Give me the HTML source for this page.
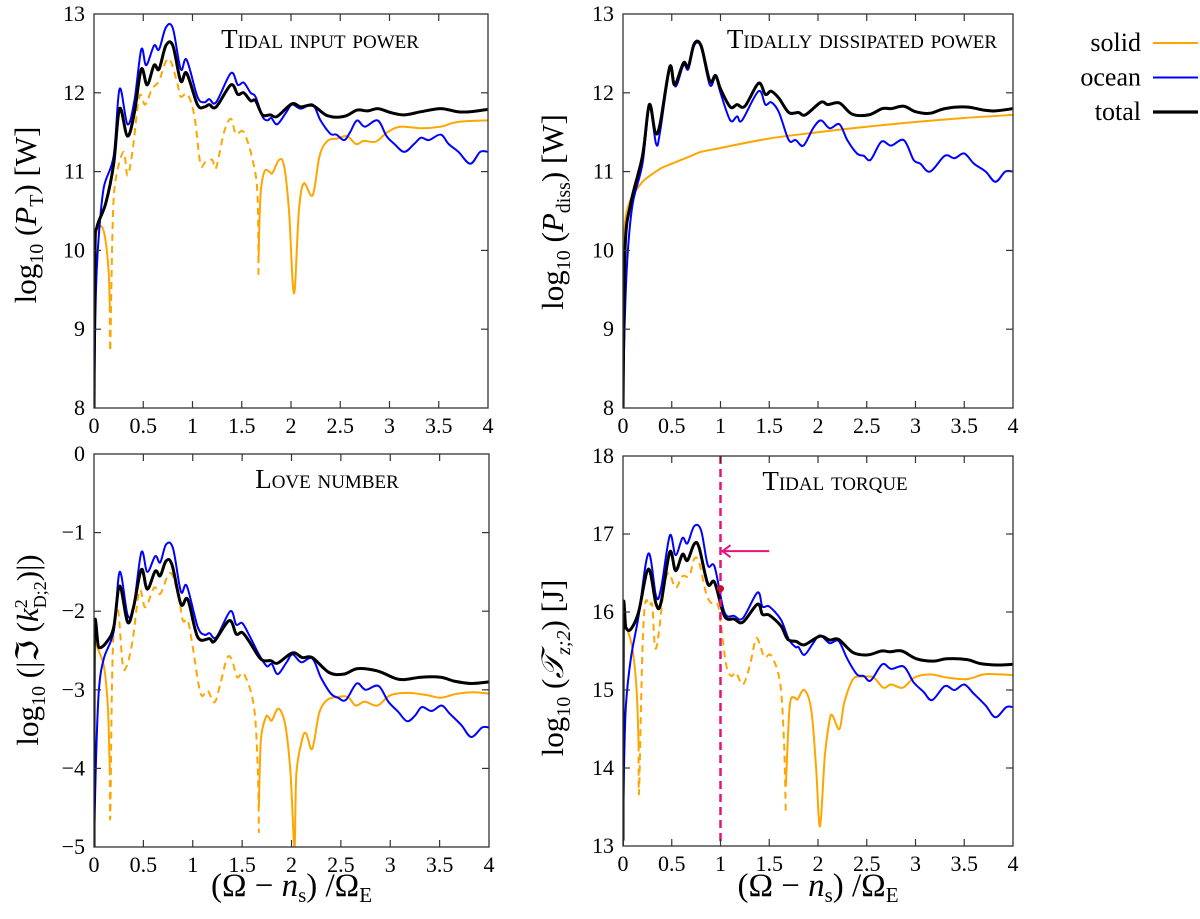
<!DOCTYPE html>
<html><head><meta charset="utf-8"><style>
html,body{margin:0;padding:0;background:#fff;}
svg{display:block;font-family:"Liberation Serif","DejaVu Serif",serif;}
</style></head><body>
<svg id="fig" width="1200" height="919" viewBox="0 0 1200 919" xmlns="http://www.w3.org/2000/svg"></svg>
<script>
// ---------- data (x in (Ω-n_s)/Ω_E, y in log10 units) ----------
const xTicks = [0, 0.5, 1, 1.5, 2, 2.5, 3, 3.5, 4];
const xTickLabels = ["0", "0.5", "1", "1.5", "2", "2.5", "3", "3.5", "4"];
const yTicksPower = [8, 9, 10, 11, 12, 13];
const yTicksLove = [-5, -4, -3, -2, -1, 0];
const yTicksTorque = [13, 14, 15, 16, 17, 18];

// Panel 1: tidal input power
const p1Total = [[0,8],[0.01,10],[0.03,10.3],[0.12,10.6],[0.2,11.1],[0.26,11.8],[0.34,11.45],[0.41,11.75],[0.48,12.3],[0.54,12.1],[0.61,12.35],[0.66,12.3],[0.73,12.6],[0.8,12.6],[0.88,12.15],[0.94,12.25],[1.05,11.85],[1.12,11.82],[1.17,11.85],[1.24,11.82],[1.39,12.1],[1.46,11.98],[1.52,12.0],[1.59,11.9],[1.64,11.9],[1.71,11.72],[1.79,11.72],[1.86,11.7],[2.01,11.86],[2.1,11.82],[2.22,11.84],[2.37,11.71],[2.54,11.7],[2.67,11.78],[2.78,11.77],[2.88,11.8],[3.01,11.75],[3.15,11.72],[3.32,11.76],[3.52,11.8],[3.69,11.76],[3.82,11.76],[4,11.79]];
const p1Ocean = [[0,8],[0.02,9.5],[0.05,10.2],[0.1,10.8],[0.2,11.2],[0.26,12.05],[0.34,11.6],[0.41,11.9],[0.48,12.55],[0.53,12.35],[0.61,12.6],[0.66,12.55],[0.73,12.83],[0.8,12.82],[0.88,12.3],[0.94,12.42],[1.05,11.95],[1.12,11.88],[1.17,11.92],[1.24,11.88],[1.39,12.25],[1.46,12.1],[1.52,12.13],[1.59,12.0],[1.64,11.95],[1.71,11.7],[1.76,11.65],[1.8,11.68],[1.86,11.6],[1.95,11.75],[2.01,11.85],[2.1,11.8],[2.22,11.85],[2.3,11.65],[2.4,11.48],[2.46,11.47],[2.54,11.4],[2.6,11.5],[2.67,11.65],[2.75,11.57],[2.88,11.65],[2.97,11.45],[3.05,11.35],[3.15,11.25],[3.25,11.35],[3.32,11.43],[3.4,11.4],[3.52,11.47],[3.6,11.35],[3.7,11.25],[3.82,11.1],[3.92,11.25],[4,11.25]];
const p1SolidA = [[0,10.0],[0.03,10.25],[0.08,10.3],[0.12,10.1],[0.15,9.7],[0.16,9.3]];
const p1SolidDash = [[0.16,9.3],[0.165,8.75],[0.19,10.35],[0.22,10.9],[0.3,11.25],[0.34,10.95],[0.39,11.25],[0.46,11.95],[0.52,11.85],[0.59,12.05],[0.66,12.15],[0.73,12.4],[0.78,12.4],[0.85,12.1],[0.88,11.95],[0.95,11.98],[1.02,11.7],[1.08,11.1],[1.13,11.12],[1.2,11.15],[1.24,11.05],[1.32,11.5],[1.39,11.67],[1.44,11.48],[1.52,11.5],[1.61,11.15],[1.66,10.7],[1.67,9.65]];
const p1SolidB = [[1.67,9.85],[1.69,10.7],[1.73,11.0],[1.78,11.0],[1.81,10.98],[1.88,11.15],[1.93,11.07],[1.98,10.5],[2.03,9.45],[2.08,10.5],[2.13,10.85],[2.22,10.7],[2.29,11.2],[2.37,11.39],[2.47,11.42],[2.57,11.45],[2.66,11.35],[2.74,11.39],[2.86,11.38],[2.98,11.5],[3.11,11.57],[3.32,11.55],[3.52,11.57],[3.69,11.63],[4,11.65]];

// Panel 2: tidally dissipated power
const p2Total = [[0,8],[0.02,10.0],[0.08,10.6],[0.2,11.2],[0.27,11.85],[0.33,11.5],[0.38,11.6],[0.48,12.33],[0.53,12.1],[0.62,12.38],[0.67,12.33],[0.73,12.62],[0.8,12.6],[0.89,12.15],[0.95,12.22],[1.0,12.05],[1.1,11.82],[1.17,11.85],[1.25,11.83],[1.39,12.12],[1.46,11.98],[1.52,12.02],[1.6,11.93],[1.7,11.75],[1.8,11.75],[1.87,11.72],[2.03,11.88],[2.1,11.85],[2.22,11.87],[2.35,11.73],[2.52,11.72],[2.66,11.8],[2.75,11.8],[2.88,11.83],[3.0,11.76],[3.15,11.74],[3.3,11.8],[3.52,11.82],[3.7,11.78],[3.82,11.77],[4,11.8]];
const p2Ocean = [[0,8],[0.02,9.2],[0.05,10.0],[0.1,10.6],[0.2,11.1],[0.27,11.82],[0.34,11.35],[0.38,11.5],[0.48,12.3],[0.54,12.08],[0.62,12.35],[0.67,12.3],[0.73,12.6],[0.8,12.58],[0.89,12.1],[0.95,12.2],[1.0,12.0],[1.1,11.65],[1.17,11.7],[1.22,11.65],[1.39,12.02],[1.46,11.85],[1.52,11.88],[1.6,11.75],[1.7,11.4],[1.77,11.4],[1.85,11.33],[1.95,11.55],[2.03,11.65],[2.12,11.55],[2.22,11.6],[2.3,11.4],[2.4,11.23],[2.47,11.2],[2.54,11.15],[2.65,11.38],[2.75,11.33],[2.88,11.4],[2.98,11.15],[3.05,11.1],[3.15,11.0],[3.3,11.2],[3.4,11.17],[3.5,11.23],[3.6,11.1],[3.72,11.0],[3.82,10.87],[3.92,11.0],[4,11.0]];
const p2Solid = [[0,10.0],[0.02,10.35],[0.05,10.55],[0.1,10.7],[0.2,10.87],[0.3,10.97],[0.4,11.05],[0.5,11.1],[0.7,11.2],[0.8,11.25],[1.0,11.3],[1.5,11.42],[2.0,11.5],[2.5,11.57],[3.0,11.63],[3.5,11.68],[4,11.72]];

// Panel 3: Love number
const p3Total = [[0,-5],[0.005,-2.25],[0.05,-2.46],[0.135,-2.38],[0.2,-2.2],[0.26,-1.68],[0.34,-2.14],[0.4,-1.95],[0.48,-1.47],[0.54,-1.72],[0.62,-1.49],[0.67,-1.55],[0.73,-1.36],[0.79,-1.41],[0.88,-1.91],[0.95,-1.85],[1.05,-2.33],[1.17,-2.35],[1.22,-2.38],[1.37,-2.12],[1.44,-2.29],[1.5,-2.27],[1.57,-2.38],[1.69,-2.61],[1.79,-2.63],[1.86,-2.66],[2.01,-2.53],[2.11,-2.59],[2.21,-2.59],[2.38,-2.78],[2.53,-2.8],[2.67,-2.73],[2.87,-2.76],[3.04,-2.85],[3.14,-2.87],[3.31,-2.84],[3.51,-2.84],[3.65,-2.89],[3.82,-2.92],[4,-2.9]];
const p3Ocean = [[0,-5],[0.02,-3.9],[0.05,-3.0],[0.1,-2.6],[0.2,-2.25],[0.26,-1.5],[0.34,-2.05],[0.4,-1.95],[0.48,-1.25],[0.54,-1.5],[0.62,-1.3],[0.67,-1.38],[0.73,-1.15],[0.8,-1.2],[0.88,-1.75],[0.94,-1.68],[1.05,-2.2],[1.12,-2.3],[1.17,-2.28],[1.24,-2.33],[1.38,-2.0],[1.44,-2.17],[1.5,-2.15],[1.57,-2.3],[1.67,-2.55],[1.75,-2.7],[1.8,-2.67],[1.86,-2.8],[1.95,-2.65],[2.01,-2.55],[2.1,-2.65],[2.21,-2.6],[2.3,-2.85],[2.4,-3.05],[2.47,-3.1],[2.55,-3.13],[2.66,-2.92],[2.75,-3.0],[2.88,-2.95],[2.98,-3.15],[3.08,-3.28],[3.17,-3.4],[3.25,-3.33],[3.32,-3.22],[3.42,-3.27],[3.52,-3.2],[3.6,-3.3],[3.72,-3.45],[3.82,-3.6],[3.93,-3.48],[4,-3.48]];
const p3SolidA = [[0,-2.3],[0.03,-2.45],[0.1,-2.7],[0.14,-3.2],[0.155,-3.8],[0.16,-4.0]];
const p3SolidDash = [[0.16,-4.0],[0.165,-4.6],[0.19,-2.5],[0.24,-1.97],[0.29,-2.67],[0.33,-2.7],[0.39,-2.38],[0.46,-1.74],[0.52,-1.95],[0.61,-1.7],[0.67,-1.78],[0.74,-1.57],[0.79,-1.53],[0.86,-1.83],[0.9,-2.12],[0.95,-2.12],[1.0,-2.46],[1.08,-3.05],[1.15,-3.01],[1.22,-3.16],[1.28,-2.92],[1.35,-2.59],[1.4,-2.63],[1.45,-2.84],[1.52,-2.8],[1.62,-3.22],[1.66,-4.06],[1.67,-4.82]];
const p3SolidB = [[1.67,-4.49],[1.69,-3.64],[1.74,-3.35],[1.77,-3.35],[1.8,-3.39],[1.87,-3.24],[1.94,-3.47],[1.99,-4.06],[2.03,-5],[2.05,-4.06],[2.11,-3.62],[2.15,-3.56],[2.21,-3.75],[2.28,-3.3],[2.36,-3.13],[2.47,-3.09],[2.57,-3.09],[2.65,-3.2],[2.74,-3.15],[2.87,-3.2],[3.0,-3.07],[3.18,-3.04],[3.38,-3.07],[3.51,-3.1],[3.68,-3.05],[3.85,-3.03],[4,-3.05]];

// Panel 4: tidal torque
const p4Total = [[0,13.08],[0.003,15.97],[0.03,15.8],[0.08,15.78],[0.16,16.0],[0.26,16.55],[0.34,16.1],[0.39,16.12],[0.48,16.77],[0.54,16.53],[0.61,16.74],[0.66,16.66],[0.73,16.87],[0.78,16.83],[0.87,16.36],[0.94,16.38],[1.04,15.95],[1.14,15.91],[1.23,15.87],[1.38,16.1],[1.43,15.97],[1.5,15.96],[1.62,15.82],[1.69,15.65],[1.78,15.62],[1.86,15.58],[2.02,15.69],[2.12,15.64],[2.21,15.65],[2.36,15.48],[2.51,15.45],[2.65,15.5],[2.74,15.49],[2.86,15.5],[3.01,15.4],[3.18,15.37],[3.32,15.4],[3.53,15.39],[3.66,15.34],[3.84,15.32],[4,15.33]];
const p4Ocean = [[0,13.0],[0.01,14.0],[0.03,14.8],[0.08,15.4],[0.16,15.95],[0.26,16.75],[0.34,16.2],[0.39,16.3],[0.48,16.98],[0.54,16.73],[0.61,16.95],[0.66,16.88],[0.73,17.1],[0.8,17.05],[0.87,16.6],[0.94,16.58],[1.04,16.0],[1.14,15.95],[1.23,15.92],[1.38,16.25],[1.43,16.07],[1.5,16.07],[1.62,15.9],[1.7,15.65],[1.77,15.55],[1.8,15.55],[1.86,15.45],[1.95,15.6],[2.02,15.7],[2.12,15.6],[2.21,15.63],[2.3,15.4],[2.4,15.2],[2.47,15.18],[2.54,15.12],[2.66,15.33],[2.75,15.27],[2.88,15.3],[2.98,15.1],[3.08,14.98],[3.17,14.87],[3.3,15.05],[3.4,15.0],[3.5,15.07],[3.6,14.95],[3.72,14.8],[3.82,14.65],[3.93,14.78],[4,14.78]];
const p4SolidA = [[0,15.8],[0.05,15.75],[0.1,15.5],[0.14,15.0],[0.16,14.3]];
const p4SolidDash = [[0.16,14.3],[0.165,13.7],[0.2,15.54],[0.23,16.12],[0.27,16.08],[0.3,16.08],[0.33,15.54],[0.37,15.76],[0.42,16.31],[0.47,16.5],[0.54,16.31],[0.61,16.46],[0.68,16.46],[0.73,16.68],[0.78,16.64],[0.85,16.25],[0.9,16.12],[0.97,16.1],[1.01,15.78],[1.06,15.31],[1.11,15.18],[1.16,15.22],[1.23,15.07],[1.3,15.31],[1.36,15.65],[1.4,15.6],[1.45,15.42],[1.52,15.44],[1.61,15.1],[1.65,14.37],[1.67,13.42]];
const p4SolidB = [[1.67,13.77],[1.71,14.79],[1.76,14.9],[1.79,14.88],[1.86,15.0],[1.93,14.75],[1.98,14.02],[2.02,13.25],[2.07,14.15],[2.12,14.62],[2.15,14.67],[2.22,14.5],[2.27,14.84],[2.36,15.14],[2.46,15.17],[2.57,15.16],[2.67,15.03],[2.75,15.07],[2.87,15.03],[2.99,15.16],[3.15,15.2],[3.32,15.16],[3.53,15.14],[3.7,15.2],[3.87,15.2],[4,15.19]];
const markerX = [1];
const markerDotY = [16.3];
const arrowFromX = [1.5];
const arrowY = [16.78];

// ---------- drawing ----------
const NS = "http://www.w3.org/2000/svg";
const svg = document.getElementById('fig');
function mk(tag, attrs, parent) {
  const e = document.createElementNS(NS, tag);
  for (const k in attrs) e.setAttribute(k, attrs[k]);
  (parent || svg).appendChild(e);
  return e;
}
const ORANGE = "#ffa500", BLUE = "#0000ff", BLACK = "#000";

function smoothPath(P) {
  // Catmull-Rom -> cubic Bezier (in screen coords)
  let d = 'M' + P[0][0].toFixed(1) + ' ' + P[0][1].toFixed(1);
  for (let i = 0; i < P.length - 1; i++) {
    const p0 = P[i - 1] || P[i], p1 = P[i], p2 = P[i + 1], p3 = P[i + 2] || P[i + 1];
    const t = 1 / 6;
    const c1x = p1[0] + (p2[0] - p0[0]) * t, c1y = p1[1] + (p2[1] - p0[1]) * t;
    const c2x = p2[0] - (p3[0] - p1[0]) * t, c2y = p2[1] - (p3[1] - p1[1]) * t;
    d += ' C' + c1x.toFixed(1) + ' ' + c1y.toFixed(1) + ' ' + c2x.toFixed(1) + ' ' + c2y.toFixed(1) + ' ' + p2[0].toFixed(1) + ' ' + p2[1].toFixed(1);
  }
  return d;
}

function panel(cfg) {
  const g = mk('g', {});
  
  
  const {x0, x1, y0, y1, ymin, ymax} = cfg;
  const sx = v => x0 + (v - 0) / 4 * (x1 - x0);
  const sy = v => y1 - (v - ymin) / (ymax - ymin) * (y1 - y0);
  const clipId = 'clip-' + cfg.name;
  const cp = mk('clipPath', {id: clipId}, g);
  mk('rect', {x: x0, y: y0, width: x1 - x0, height: y1 - y0}, cp);
  const plot = mk('g', {'clip-path': 'url(#' + clipId + ')'}, g);
  function line(pts, color, w, dash, nm) {
    const d = smoothPath(pts.map(p => [sx(p[0]), sy(p[1])]));
    const p = mk('path', {d: d, fill: 'none', stroke: color, 'stroke-width': w, 'stroke-linejoin': 'round', 'stroke-linecap': dash ? 'butt' : 'round'}, plot);
    if (dash) p.setAttribute('stroke-dasharray', '7 5');
    
    
  }
  cfg.solid.forEach((s, i) => line(s.pts, ORANGE, 2, s.dash, 'solid-series-' + (i + 1)));
  line(cfg.ocean, BLUE, 2, false, 'ocean-series');
  line(cfg.total, BLACK, 3, false, 'total-series');
  if (cfg.extra) cfg.extra(g, sx, sy);
  const fr = mk('rect', {x: x0, y: y0, width: x1 - x0, height: y1 - y0, fill: 'none', stroke: '#333', 'stroke-width': 1.3}, g);
  
  
  xTicks.forEach((t, i) => {
    const X = sx(t);
    if (i > 0 && i < xTicks.length - 1) {
      mk('line', {x1: X, x2: X, y1: y1, y2: y1 - 7, stroke: '#333', 'stroke-width': 1.2}, g);
      mk('line', {x1: X, x2: X, y1: y0, y2: y0 + 7, stroke: '#333', 'stroke-width': 1.2}, g);
    }
    const tx = mk('text', {x: X, y: y1 + 25, 'font-size': 22, 'text-anchor': 'middle'}, g);
    tx.textContent = xTickLabels[i];
    
    
  });
  cfg.yTicks.forEach((t, i) => {
    const Y = sy(t);
    if (i > 0 && i < cfg.yTicks.length - 1) {
      mk('line', {x1: x0, x2: x0 + 7, y1: Y, y2: Y, stroke: '#333', 'stroke-width': 1.2}, g);
      mk('line', {x1: x1, x2: x1 - 7, y1: Y, y2: Y, stroke: '#333', 'stroke-width': 1.2}, g);
    }
    const ty = mk('text', {x: x0 - 9, y: Y + 7, 'font-size': 22, 'text-anchor': 'end'}, g);
    ty.textContent = t < 0 ? '\u2212' + Math.abs(t) : String(t);
    
    
  });
  const ti = mk('text', {x: cfg.titleX, y: y0 + 34, 'font-size': 27, 'text-anchor': 'middle', 'font-variant': 'small-caps'}, g);
  ti.textContent = cfg.title;
  
  
  const yl = mk('text', {transform: 'translate(' + cfg.ylx + ',' + cfg.yly + ') rotate(-90)', 'font-size': 31, 'text-anchor': 'middle'}, g);
  yl.innerHTML = cfg.ylabel;
  
  
  if (cfg.xlabel) {
    const xl = mk('text', {x: (x0 + x1) / 2, y: 896, 'font-size': 33, 'text-anchor': 'middle'}, g);
    xl.innerHTML = '(\u03A9 \u2212 <tspan font-style="italic">n</tspan><tspan font-size="21" dy="6">s</tspan><tspan dy="-6">) /\u03A9</tspan><tspan font-size="21" dy="6">E</tspan>';
    
    
  }
}

panel({name: 'panel-tidal-input-power', x0: 94, x1: 488, y0: 14, y1: 408, ymin: 8, ymax: 13, yTicks: yTicksPower,
  title: 'Tidal input power', titleX: 320,
  ylabel: 'log<tspan font-size="20" dy="7">10</tspan><tspan dy="-7"> (</tspan><tspan font-style="italic">P</tspan><tspan font-size="20" dy="7">T</tspan><tspan dy="-7">) [W]</tspan>',
  ylx: 36, yly: 215,
  total: p1Total, ocean: p1Ocean,
  solid: [{pts: p1SolidA, dash: false}, {pts: p1SolidDash, dash: true}, {pts: p1SolidB, dash: false}]});

panel({name: 'panel-dissipated-power', x0: 623, x1: 1013, y0: 14, y1: 408, ymin: 8, ymax: 13, yTicks: yTicksPower,
  title: 'Tidally dissipated power', titleX: 862,
  ylabel: 'log<tspan font-size="20" dy="7">10</tspan><tspan dy="-7"> (</tspan><tspan font-style="italic">P</tspan><tspan font-size="20" dy="7">diss</tspan><tspan dy="-7">) [W]</tspan>',
  ylx: 563, yly: 212,
  total: p2Total, ocean: p2Ocean,
  solid: [{pts: p2Solid, dash: false}]});

panel({name: 'panel-love-number', x0: 94, x1: 489, y0: 454, y1: 847, ymin: -5, ymax: 0, yTicks: yTicksLove,
  title: 'Love number', titleX: 327, xlabel: true,
  ylabel: 'log<tspan font-size="20" dy="7">10</tspan><tspan dy="-7"> (|\u2111 (</tspan><tspan font-style="italic">k</tspan><tspan font-size="18" dy="-11">2</tspan><tspan font-size="18" dx="-9" dy="19">D;2</tspan><tspan dy="-8">)|)</tspan>',
  ylx: 38, yly: 650,
  total: p3Total, ocean: p3Ocean,
  solid: [{pts: p3SolidA, dash: false}, {pts: p3SolidDash, dash: true}, {pts: p3SolidB, dash: false}]});

panel({name: 'panel-tidal-torque', x0: 623, x1: 1013, y0: 456, y1: 846, ymin: 13, ymax: 18, yTicks: yTicksTorque,
  title: 'Tidal torque', titleX: 835, xlabel: true,
  ylabel: 'log<tspan font-size="20" dy="7">10</tspan><tspan dy="-7"> (</tspan><tspan font-style="italic">\uD835\uDCAF</tspan><tspan font-size="20" dy="7" font-style="italic">z;2</tspan><tspan dy="-7">) [J]</tspan>',
  ylx: 563, yly: 668,
  total: p4Total, ocean: p4Ocean,
  solid: [{pts: p4SolidA, dash: false}, {pts: p4SolidDash, dash: true}, {pts: p4SolidB, dash: false}],
  extra: function (g, sx, sy) {
    const vx = sx(markerX[0]);
    const vl = mk('line', {x1: vx, x2: vx, y1: 456, y2: 846, stroke: '#e8127c', 'stroke-width': 2.5, 'stroke-dasharray': '8 5'}, g);
    
    
    const ay = sy(arrowY[0]);
    const ar = mk('path', {d: 'M' + sx(arrowFromX[0]) + ' ' + ay + ' L' + (vx + 2) + ' ' + ay + ' M' + (vx + 10) + ' ' + (ay - 6) + ' L' + (vx + 2) + ' ' + ay + ' L' + (vx + 10) + ' ' + (ay + 6), fill: 'none', stroke: '#e8127c', 'stroke-width': 2}, g);
    
    
    const dot = mk('circle', {cx: vx, cy: sy(markerDotY[0]), r: 3.5, fill: '#c8102e'}, g);
    
    
  }});

// legend
const legNames = ['solid', 'ocean', 'total'];
const legColors = [ORANGE, BLUE, BLACK];
const legW = [2, 2, 3.2];
const lg = mk('g', {});


legNames.forEach((n, i) => {
  const y = 43 + i * 34.5;
  const t = mk('text', {x: 1141, y: y + 8, 'font-size': 26, 'text-anchor': 'end'}, lg);
  t.textContent = n;
  
  
  const l = mk('line', {x1: 1153, x2: 1198, y1: y, y2: y, stroke: legColors[i], 'stroke-width': legW[i]}, lg);
  
  
});
</script>
</body></html>
